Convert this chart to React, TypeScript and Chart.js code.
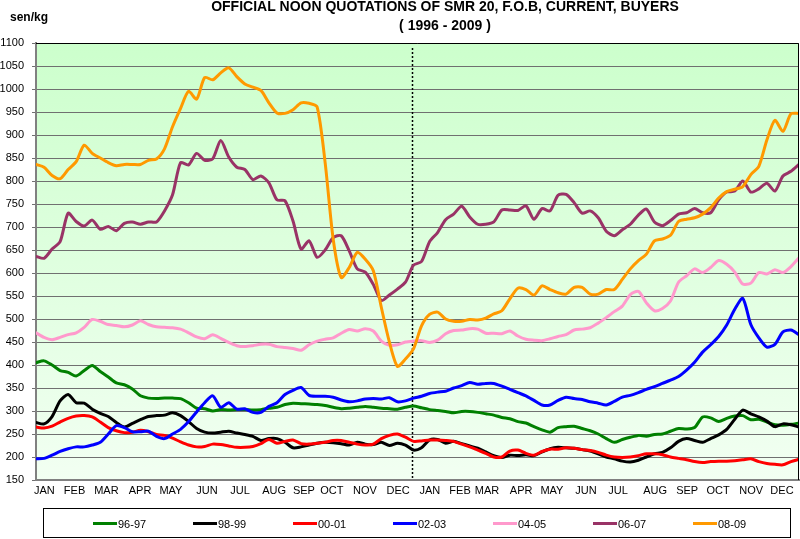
import React, { useEffect, useRef } from "react";
import { Chart, registerables } from "chart.js";

Chart.register(...registerables);

// ---- data ----
const STEP = 0.25; // months between samples (x axis unit = month)
const titleLines = ["OFFICIAL NOON QUOTATIONS OF SMR 20, F.O.B, CURRENT, BUYERS", "( 1996 - 2009 )"];
const unitLabel = "sen/kg";
const seriesLabels = ["96-97", "98-99", "00-01", "02-03", "04-05", "06-07", "08-09"];
const seriesColors = ["#008000", "#000000", "#ff0000", "#0000ff", "#ff99cc", "#993366", "#ff9900"];
const monthLabels = [
  "JAN", "FEB", "MAR", "APR", "MAY", "JUN", "JUL", "AUG", "SEP", "OCT", "NOV", "DEC",
  "JAN", "FEB", "MAR", "APR", "MAY", "JUN", "JUL", "AUG", "SEP", "OCT", "NOV", "DEC",
];
const monthTickPos = [
  0.26, 1.2, 2.19, 3.24, 4.2, 5.32, 6.35, 7.41, 8.34, 9.21, 10.24, 11.27,
  12.26, 13.2, 14.04, 15.1, 16.06, 17.12, 18.12, 19.27, 20.27, 21.23, 22.26, 23.22,
];
const yearBreak = 11.7;
const xMax = 23.75;
const yMin = 150;
const yMax = 1100;
const yStep = 50;

const s9697 = [
  405, 409, 400, 388, 384, 376, 388, 399, 386, 374, 361, 357, 348, 333, 328, 327,
  328, 328, 327, 318, 306, 305, 300, 303, 302, 303, 303, 302, 303, 306, 308, 314,
  317, 316, 315, 314, 312, 308, 305, 306, 308, 310, 308, 306, 305, 304, 308, 311,
  307, 303, 301, 299, 296, 299, 299, 297, 294, 291, 286, 283, 277, 274, 266, 259,
  254, 264, 266, 267, 262, 257, 250, 240, 232, 238, 243, 247, 245, 249, 250, 256,
  262, 261, 264, 287, 285, 277, 284, 289, 290, 281, 282, 276, 270, 269, 271, 274,
];
const s9899 = [
  275, 272, 288, 322, 336, 318, 317, 304, 295, 288, 275, 265, 273, 281, 288, 290,
  291, 296, 290, 277, 262, 254, 252, 254, 256, 252, 249, 245, 236, 240, 240, 232,
  220, 222, 226, 230, 232, 231, 229, 226, 232, 228, 227, 232, 225, 230, 226, 215,
  220, 237, 238, 230, 234, 229, 224, 219, 211, 203, 199, 204, 203, 205, 203, 211,
  218, 221, 220, 219, 216, 213, 207, 200, 196, 191, 189, 193, 200, 207, 210, 220,
  234, 240, 236, 232, 240, 248, 260, 282, 302, 294, 287, 278, 266, 272, 270, 265,
];
const s0001 = [
  265, 263, 267, 276, 284, 289, 290, 287, 276, 264, 257, 253, 254, 258, 255, 249,
  247, 241, 233, 226, 222, 223, 228, 227, 224, 221, 221, 223, 229, 238, 230, 234,
  237, 229, 228, 230, 232, 236, 236, 232, 228, 226, 228, 240, 247, 250, 243, 234,
  235, 237, 237, 236, 234, 228, 222, 215, 208, 200, 200, 213, 215, 208, 204, 212,
  217, 217, 220, 219, 216, 214, 210, 204, 200, 199, 200, 203, 207, 207, 205, 200,
  197, 194, 190, 188, 190, 191, 191, 192, 194, 196, 190, 186, 184, 183, 190, 195,
];
const s0203 = [
  196, 197, 204, 212, 218, 222, 222, 226, 232, 250, 268, 264, 255, 255, 256, 245,
  240, 250, 260, 277, 298, 318, 333, 308, 318, 304, 305, 297, 297, 310, 318, 336,
  345, 351, 334, 332, 332, 330, 324, 320, 322, 326, 327, 326, 329, 320, 322, 328,
  332, 338, 341, 343, 350, 355, 362, 358, 360, 360, 354, 347, 340, 333, 323, 313,
  313, 323, 330, 327, 325, 320, 317, 313, 321, 330, 334, 340, 347, 353, 360, 367,
  375, 389, 406, 428, 444, 462, 487, 521, 545, 488, 459, 439, 445, 472, 476, 466,
];
const s0405 = [
  470, 460, 455, 460, 466, 470, 482, 499, 495, 488, 486, 483, 487, 496, 488, 483,
  482, 481, 478, 470, 461, 457, 466, 458, 449, 442, 440, 442, 445, 445, 440, 438,
  436, 432, 444, 452, 456, 459, 469, 477, 474, 479, 474, 452, 443, 444, 450, 452,
  453, 449, 454, 468, 475, 476, 479, 478, 469, 469, 468, 474, 463, 456, 454, 453,
  457, 462, 466, 476, 478, 481, 491, 503, 516, 528, 553, 560, 535, 518, 523, 539,
  580, 594, 609, 601, 612, 627, 619, 602, 576, 578, 601, 598, 607, 601, 614, 633,
];
const s0607 = [
  636, 632, 652, 668, 730, 712, 702, 715, 695, 701, 692, 708, 711, 706, 711, 711,
  735, 770, 840, 835, 860, 845, 848, 888, 852, 830, 825, 803, 811, 796, 759, 757,
  713, 652, 670, 634, 650, 677, 681, 648, 609, 602, 575, 540, 552, 565, 580, 617,
  625, 668, 688, 716, 728, 745, 722, 706, 706, 711, 737, 737, 736, 746, 717, 740,
  735, 769, 771, 753, 730, 735, 720, 691, 681, 694, 706, 726, 739, 711, 703, 714,
  728, 731, 740, 731, 731, 759, 776, 778, 800, 776, 783, 795, 778, 811, 821, 836,
];
const s0809 = [
  836, 830, 812, 805, 825, 842, 878, 860, 850, 840, 833, 836, 836, 836, 845, 848,
  870, 918, 958, 995, 978, 1025, 1020, 1035, 1046, 1027, 1011, 1004, 997, 970, 948, 947,
  955, 970, 969, 961, 840, 674, 590, 612, 645, 630, 605, 525, 450, 397, 413, 435,
  485, 510, 515, 500, 495, 495, 499, 498, 502, 511, 518, 544, 567, 564, 552, 572,
  564, 557, 554, 569, 569, 554, 554, 564, 564, 586, 609, 627, 641, 670, 674, 682,
  712, 717, 720, 728, 742, 763, 777, 782, 788, 814, 832, 889, 932, 908, 946, 947,
];
const seriesValues = [s9697, s9899, s0001, s0203, s0405, s0607, s0809];

const FONT = "'Liberation Sans', Arial, Helvetica, sans-serif";

const decorPlugin = {
  id: "decor",
  beforeDraw(chart: any) {
    const { ctx, chartArea: a } = chart;
    ctx.save();
    const g = ctx.createLinearGradient(0, a.top, 0, a.bottom);
    g.addColorStop(0, "#ccffcc");
    g.addColorStop(1, "#f2fff2");
    ctx.fillStyle = g;
    ctx.fillRect(a.left, a.top, a.right - a.left, a.bottom - a.top);
    ctx.restore();
  },
  beforeDatasetsDraw(chart: any) {
    const { ctx, chartArea: a, scales } = chart;
    const x = Math.round(scales.x.getPixelForValue(yearBreak)) + 0.5;
    ctx.save();
    ctx.strokeStyle = "#000";
    ctx.lineWidth = 1.5;
    ctx.setLineDash([2, 2]);
    ctx.beginPath();
    ctx.moveTo(x, a.top + 5);
    ctx.lineTo(x, a.bottom);
    ctx.stroke();
    ctx.restore();
  },
  afterDatasetsDraw(chart: any) {
    const { ctx, chartArea: a } = chart;
    ctx.save();
    ctx.strokeStyle = "#000";
    ctx.lineWidth = 1;
    ctx.beginPath();
    ctx.moveTo(a.left, a.top + 0.5);
    ctx.lineTo(a.right - 0.5, a.top + 0.5);
    ctx.lineTo(a.right - 0.5, a.bottom);
    ctx.stroke();
    ctx.restore();
  },
  afterDraw(chart: any) {
    const { ctx } = chart;
    ctx.save();
    ctx.fillStyle = "#000";
    ctx.textBaseline = "alphabetic";
    ctx.textAlign = "center";
    ctx.font = `bold 14px ${FONT}`;
    ctx.fillText(titleLines[0], 445, 11);
    ctx.fillText(titleLines[1], 445, 29.5);
    ctx.textAlign = "left";
    ctx.font = `bold 12px ${FONT}`;
    ctx.fillText(unitLabel, 10, 21);
    // legend box
    ctx.strokeStyle = "#000";
    ctx.lineWidth = 1;
    ctx.strokeRect(43.5, 508.5, 747, 29);
    ctx.font = `11px ${FONT}`;
    chart.data.datasets.forEach((ds: any, i: number) => {
      const x0 = 93 + 100 * i;
      ctx.strokeStyle = ds.borderColor;
      ctx.lineWidth = 3;
      ctx.beginPath();
      ctx.moveTo(x0, 523.5);
      ctx.lineTo(x0 + 24, 523.5);
      ctx.stroke();
      ctx.fillStyle = "#000";
      ctx.fillText(ds.label, x0 + 25, 527.5);
    });
    ctx.restore();
  },
};

export default function App() {
  const ref = useRef<HTMLCanvasElement | null>(null);
  useEffect(() => {
    document.body.style.margin = "0";
    const canvas = ref.current;
    if (!canvas) return;
    const datasets = seriesLabels.map((label, i) => ({
      label,
      data: seriesValues[i].map((v, k) => ({ x: k * STEP, y: v })),
      borderColor: seriesColors[i],
      backgroundColor: seriesColors[i],
      borderWidth: 3,
      pointRadius: 0,
      tension: 0.25,
      borderJoinStyle: "round" as const,
      borderCapStyle: "round" as const,
      fill: false,
      order: seriesLabels.length - i,
    }));
    const chart = new Chart(canvas, {
      type: "line",
      data: { datasets },
      plugins: [decorPlugin],
      options: {
        animation: false,
        responsive: true,
        maintainAspectRatio: false,
        layout: { padding: { top: 43, right: 1, left: 0, bottom: 0 } },
        plugins: {
          legend: { display: false },
          title: { display: false },
          tooltip: { enabled: false },
        },
        font: { family: FONT, size: 11 },
        scales: {
          x: {
            type: "linear",
            min: 0,
            max: xMax,
            afterFit: (s: any) => {
              s.height = 59;
            },
            afterBuildTicks: (s: any) => {
              s.ticks = monthTickPos.map((v) => ({ value: v }));
            },
            grid: { display: false, drawTicks: false },
            border: { display: true, color: "#808080", width: 2 },
            ticks: {
              autoSkip: false,
              maxRotation: 0,
              minRotation: 0,
              padding: 4,
              color: "#000",
              font: { family: FONT, size: 11 },
              callback: (_v: any, i: number) => monthLabels[i],
            },
          },
          y: {
            type: "linear",
            min: yMin,
            max: yMax,
            afterFit: (s: any) => {
              s.width = 36;
            },
            grid: { color: "#707070", lineWidth: 1, tickLength: 4, drawTicks: true },
            border: { display: true, color: "#808080", width: 2 },
            ticks: {
              stepSize: yStep,
              padding: 8,
              color: "#000",
              font: { family: FONT, size: 11 },
              callback: (v: any) => String(v),
            },
          },
        },
      },
    });
    return () => chart.destroy();
  }, []);
  return (
    <div style={{ width: 800, height: 539, position: "relative" }}>
      <canvas ref={ref} />
    </div>
  );
}
